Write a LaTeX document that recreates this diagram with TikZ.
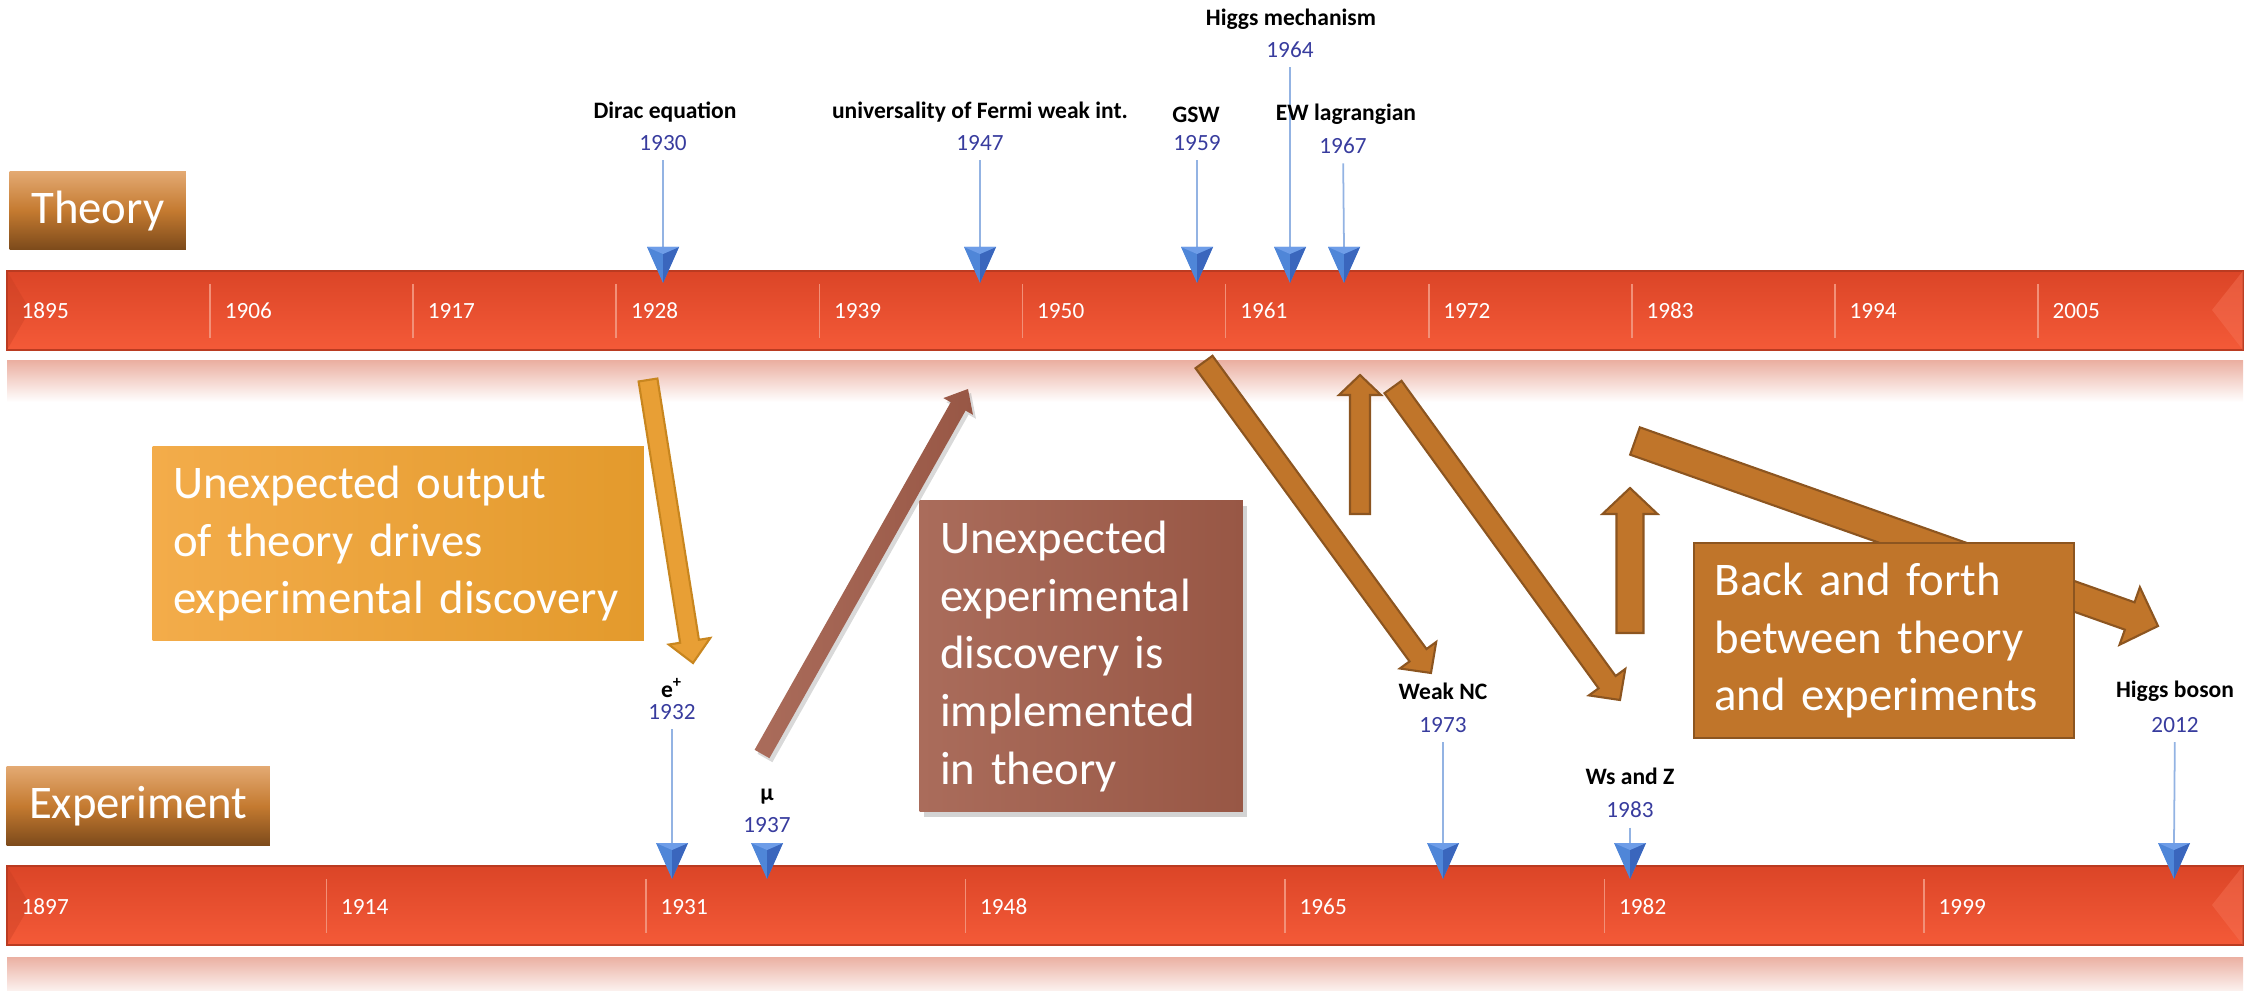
\documentclass[tikz,border=0pt]{standalone}
\usepackage{fontspec}
\setmainfont{Carlito}
\usetikzlibrary{calc, shadows}

\definecolor{barTop}{HTML}{DB4527}
\definecolor{barBot}{HTML}{F45A38}
\definecolor{barSep}{HTML}{F29078}
\definecolor{reflTop}{HTML}{EBB0A2}
\definecolor{tagTop}{HTML}{E3A972}
\definecolor{tagMid}{HTML}{C47A30}
\definecolor{tagBot}{HTML}{7C4A1B}
\definecolor{evBlue}{HTML}{383C9E}
\definecolor{evLine}{HTML}{93B3E3}
\definecolor{mkLight}{HTML}{6E9DE8}
\definecolor{mkMid}{HTML}{4F86D8}
\definecolor{mkDark}{HTML}{3A66BD}
\definecolor{ambLight}{HTML}{F3AC4A}
\definecolor{ambFill}{HTML}{E39A2C}
\definecolor{ambEdge}{HTML}{C8861F}
\definecolor{rustLight}{HTML}{AA6C5B}
\definecolor{rustFill}{HTML}{985745}
\definecolor{copFill}{HTML}{C0752A}
\definecolor{copEdge}{HTML}{8C5520}

% block arrow: [style]{tail}{tip}{half shaft}{half head}{head length}
\newcommand{\blockarr}[6][]{%
  \coordinate (ba-base) at ($(#3)!#6!(#2)$);
  \draw[#1] ($(#2)!#4!90:(#3)$) -- ($(ba-base)!#4!90:(#3)$)
    -- ($(ba-base)!#5!90:(#3)$) -- (#3)
    -- ($(ba-base)!#5!-90:(#3)$) -- ($(ba-base)!#4!-90:(#3)$)
    -- ($(#2)!#4!-90:(#3)$) -- cycle;
}

\begin{document}
\begin{tikzpicture}[
    x=0.01cm, y=-0.01cm,
    bar/.style={top color=barTop, bottom color=barBot, draw=barTop!85!black, line width=0.3pt},
    refl/.style={top color=reflTop, bottom color=white, draw=none},
    sep/.style={barSep, line width=0.5pt},
    yearlbl/.style={text=white, font=\fontsize{6.6}{8}\selectfont, anchor=west, inner sep=0pt},
    tag/.style={top color=tagTop, bottom color=tagBot, middle color=tagMid, text=white,
                font=\fontsize{13.3}{16}\selectfont, anchor=north west, inner sep=0pt},
    evname/.style={font=\fontsize{6.7}{8}\selectfont\bfseries, inner sep=1pt},
    evyear/.style={text=evBlue, font=\fontsize{6.6}{8}\selectfont, inner sep=2.5pt},
    evline/.style={evLine, line width=0.5pt},
    note/.style={text=white, align=left, anchor=north west, font=\fontsize{13.3}{16.4}\selectfont,
                 inner xsep=0.205cm, inner ysep=0pt},
    ambarrow/.style={fill=ambFill!70!ambLight, draw=ambEdge, line width=0.6pt},
    rustarrow/.style={left color=rustLight, right color=rustFill, draw=none,
                      drop shadow={opacity=0.3, shadow xshift=0.03cm, shadow yshift=-0.04cm}},
    coparrow/.style={fill=copFill, draw=copEdge, line width=0.6pt},
    pics/evmark/.style={code={
        \fill[mkMid] (-16,0) -- (16,0) -- (0,36) -- cycle;
        \fill[mkDark] (0,7) -- (16,0) -- (0,36) -- cycle;
        \fill[mkLight] (-16,0) -- (16,0) -- (0,7) -- cycle;
    }},
]
\useasboundingbox (0,0) rectangle (2256,991);

%==================== THEORY BAR ====================
\path[refl] (7,361) rectangle (2243,402);
\path[bar] (7,271) rectangle (2243,350);
\fill[barTop!90!black, opacity=0.35] (7,271) -- (30,310) -- (7,350) -- cycle;
\fill[barBot!85!white, opacity=0.45] (2243,271) -- (2212,310) -- (2243,350) -- cycle;
\foreach \k in {0,...,10}{
    \pgfmathtruncatemacro{\yr}{1895+11*\k}
    \node[yearlbl] (ty\yr) at ({21+203.1*\k},311) {\yr};
    \ifnum\k>0 \draw[sep] ({7+203.1*\k},284) -- ({7+203.1*\k},338); \fi
}
\node[tag, minimum width=1.76cm, minimum height=0.78cm] (theory) at (9,171) {Theory};

%==================== EXPERIMENT BAR ====================
\path[refl] (7,957) rectangle (2243,998);
\path[bar] (7,866) rectangle (2243,945);
\fill[barTop!90!black, opacity=0.35] (7,866) -- (30,905) -- (7,945) -- cycle;
\fill[barBot!85!white, opacity=0.45] (2243,866) -- (2212,905) -- (2243,945) -- cycle;
\foreach \k in {0,...,6}{
    \pgfmathtruncatemacro{\yr}{1897+17*\k}
    \node[yearlbl] (ey\yr) at ({21+319.5*\k},907) {\yr};
    \ifnum\k>0 \draw[sep] ({7+319.5*\k},879) -- ({7+319.5*\k},933); \fi
}
\node[tag, minimum width=2.63cm, minimum height=0.79cm] (experiment) at (6,766) {Experiment};

%==================== THEORY EVENTS ====================
\coordinate (dirac-mk) at (663,247);
\node[evname] (dirac) at (665,112) {Dirac equation};
\node[evyear] (dirac-yr) at (663,143) {1930};
\draw[evline] (dirac-yr) -- (dirac-mk);
\pic at (dirac-mk) {evmark};

\coordinate (fermi-mk) at (980,247);
\node[evname] (fermi) at (980,112) {universality of Fermi weak int.};
\node[evyear] (fermi-yr) at (980,143) {1947};
\draw[evline] (fermi-yr) -- (fermi-mk);
\pic at (fermi-mk) {evmark};

\coordinate (gsw-mk) at (1197,247);
\node[evname] (gsw) at (1196,115) {GSW};
\node[evyear] (gsw-yr) at (1197,143) {1959};
\draw[evline] (gsw-yr) -- (gsw-mk);
\pic at (gsw-mk) {evmark};

\coordinate (hmech-mk) at (1290,247);
\node[evname] (hmech) at (1291,19) {Higgs mechanism};
\node[evyear] (hmech-yr) at (1290,50) {1964};
\draw[evline] (hmech-yr) -- (hmech-mk);
\pic at (hmech-mk) {evmark};

\coordinate (ewl-mk) at (1344,247);
\node[evname] (ewl) at (1346,114) {EW lagrangian};
\node[evyear] (ewl-yr) at (1343,146) {1967};
\draw[evline] (ewl-yr) -- (ewl-mk);
\pic at (ewl-mk) {evmark};

%==================== EXPERIMENT EVENTS ====================
\coordinate (pos-mk) at (672,843);
\node[evname] (pos) at (672,688) {e\textsuperscript{+}};
\node[evyear] (pos-yr) at (672,712) {1932};
\draw[evline] (pos-yr) -- (pos-mk);
\pic at (pos-mk) {evmark};

\coordinate (mu-mk) at (767,843);
\node[evname] (mu) at (767,797) {μ};
\node[evyear] (mu-yr) at (767,825) {1937};
\pic at (mu-mk) {evmark};

\coordinate (nc-mk) at (1443,843);
\node[evname] (nc) at (1443,691) {Weak NC};
\node[evyear] (nc-yr) at (1443,725) {1973};
\draw[evline] (nc-yr) -- (nc-mk);
\pic at (nc-mk) {evmark};

\coordinate (wz-mk) at (1630,843);
\node[evname] (wz) at (1630,776) {Ws and Z};
\node[evyear] (wz-yr) at (1630,810) {1983};
\draw[evline] (wz-yr) -- (wz-mk);
\pic at (wz-mk) {evmark};

\coordinate (hb-mk) at (2174,843);
\node[evname] (hb) at (2175,691) {Higgs boson};
\node[evyear] (hb-yr) at (2175,725) {2012};
\draw[evline] (hb-yr) -- (hb-mk);
\pic at (hb-mk) {evmark};

%==================== BLOCK ARROWS ====================
\coordinate (a-pos-tail) at (648,380);  \coordinate (a-pos-tip) at (693,663);
\blockarr[ambarrow]{a-pos-tail}{a-pos-tip}{0.095cm}{0.21cm}{0.22cm}

\coordinate (a-mu-tail) at (762,754);   \coordinate (a-mu-tip) at (968,389);
\blockarr[rustarrow]{a-mu-tail}{a-mu-tip}{0.085cm}{0.17cm}{0.2cm}

\coordinate (a-nc-tail) at (1204,362);  \coordinate (a-nc-tip) at (1431,673);
\blockarr[coparrow]{a-nc-tail}{a-nc-tip}{0.105cm}{0.225cm}{0.22cm}

\coordinate (a-up1-tail) at (1360,514); \coordinate (a-up1-tip) at (1360,375);
\blockarr[coparrow]{a-up1-tail}{a-up1-tip}{0.10cm}{0.21cm}{0.20cm}

\coordinate (a-wz-tail) at (1393,387);  \coordinate (a-wz-tip) at (1620,700);
\blockarr[coparrow]{a-wz-tail}{a-wz-tip}{0.105cm}{0.225cm}{0.22cm}

\coordinate (a-up2-tail) at (1630,633); \coordinate (a-up2-tip) at (1630,488);
\blockarr[coparrow]{a-up2-tail}{a-up2-tip}{0.135cm}{0.275cm}{0.26cm}

\coordinate (a-hb-tail) at (1635,441);  \coordinate (a-hb-tip) at (2158,626);
\blockarr[coparrow]{a-hb-tail}{a-hb-tip}{0.145cm}{0.305cm}{0.30cm}

%==================== NOTE BOXES ====================
\node[note, left color=ambLight, right color=ambFill, text width=4.5cm, minimum height=1.94cm]
    (drive) at (152,446)
    {Unexpected output\\ of theory drives\\ experimental~discovery};

\node[note, left color=rustLight, right color=rustFill, text width=2.82cm, minimum height=3.11cm,
      drop shadow={opacity=0.35, shadow xshift=0.04cm, shadow yshift=-0.05cm}]
    (implement) at (919,500)
    {Unexpected\\ experimental\\ discovery is\\ implemented\\ in theory};

\node[note, fill=copFill, draw=copEdge, line width=0.6pt, text width=3.39cm, minimum height=1.95cm]
    (backforth) at (1693,542)
    {Back and forth\\ between theory\\ and experiments};

\end{tikzpicture}
\end{document}
